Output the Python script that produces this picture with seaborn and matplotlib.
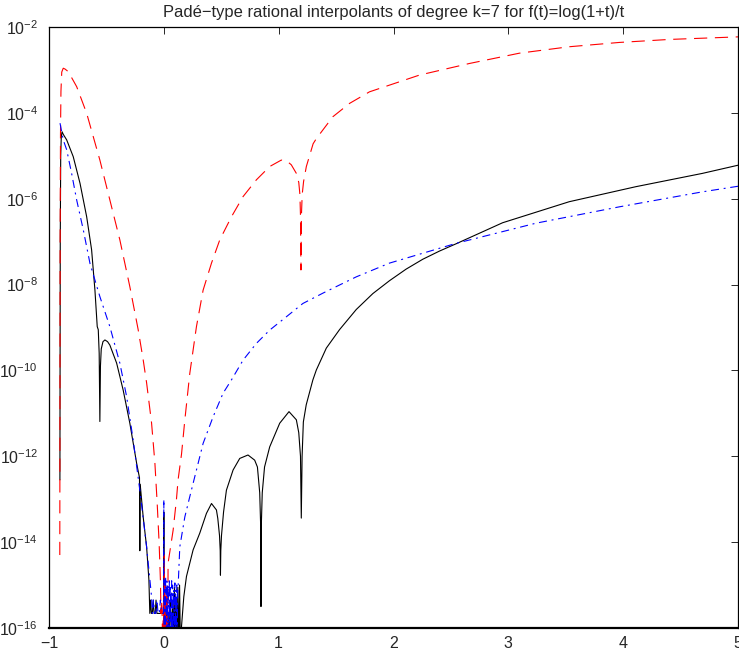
import numpy as np
import pandas as pd
import matplotlib
matplotlib.use("Agg")
import matplotlib.pyplot as plt
import seaborn as sns

# error curves: t values and log10(|error|)
black_t = [
    -0.905, -0.902, -0.898, -0.893, -0.886, -0.876, -0.846, -0.789, -0.730,
    -0.672, -0.629, -0.600, -0.580, -0.571, -0.563, -0.557, -0.552, -0.545,
    -0.530, -0.513, -0.490, -0.470, -0.411, -0.354, -0.296, -0.237, -0.212,
    -0.209, -0.206, -0.180, -0.150, -0.130, -0.122,
    -0.115, -0.108, -0.100, -0.092, -0.085, -0.075, -0.068, -0.060, -0.050,
    -0.040, -0.030, -0.020, -0.010, -0.003, 0.000, 0.003, 0.010, 0.017,
    0.025, 0.032, 0.040, 0.047, 0.055, 0.062, 0.070, 0.077, 0.085, 0.092,
    0.100, 0.107, 0.115, 0.122, 0.130, 0.137, 0.145, 0.154,
    0.174, 0.197, 0.255, 0.313, 0.371, 0.415, 0.458, 0.470, 0.485, 0.491,
    0.493, 0.496, 0.502, 0.520, 0.545, 0.603, 0.661, 0.733, 0.791, 0.815,
    0.835, 0.843, 0.846, 0.849, 0.857, 0.877, 0.922, 1.009, 1.090, 1.154,
    1.175, 1.190, 1.197, 1.204, 1.215, 1.240, 1.270, 1.298, 1.328, 1.415,
    1.530, 1.676, 1.820, 1.965, 2.110, 2.255, 2.400, 2.545, 2.950, 3.530,
    4.110, 4.690, 5.000,
]
black_logerr = [
    -12.55, -7.0, -5.0, -4.55, -4.44, -4.50, -4.63, -5.02, -5.64,
    -6.42, -7.19, -8.13, -8.98, -9.05, -9.6, -11.19, -9.9, -9.5,
    -9.33, -9.29, -9.33, -9.41, -9.83, -10.46, -11.23, -12.16, -12.5,
    -14.2, -12.65, -13.41, -14.11, -14.88, -15.66,
    -15.35, -15.66, -15.66, -15.35, -15.66, -15.66, -15.35, -15.66, -15.66,
    -15.66, -15.66, -15.66, -15.66, -15.66, -13.3, -16.5, -15.66, -16.5,
    -15.35, -16.5, -15.66, -16.5, -15.35, -15.66, -16.5, -15.35, -16.5, -15.05,
    -16.5, -15.35, -16.5, -15.05, -16.5, -15.0, -16.5, -15.96,
    -15.27, -14.8, -14.18, -13.79, -13.33, -13.1, -13.25, -13.45, -13.85, -14.2,
    -14.77, -14.2, -13.85, -13.3, -12.79, -12.32, -12.05, -11.97, -12.09, -12.25,
    -12.85, -13.6, -15.5, -13.6, -12.85, -12.25, -11.78, -11.23, -10.96, -11.15,
    -11.45, -12.0, -13.44, -12.0, -11.2, -10.8, -10.5, -10.22, -9.99, -9.48,
    -9.05, -8.58, -8.21, -7.91, -7.64, -7.41, -7.22, -7.05, -6.56, -6.07,
    -5.72, -5.41, -5.22,
]

red_t = [
    -0.906, -0.903, -0.900, -0.896, -0.889, -0.876, -0.860, -0.832, -0.759,
    -0.672, -0.557, -0.470, -0.383, -0.296, -0.2235, -0.180, -0.150, -0.107,
    -0.078, -0.058, -0.041, -0.029,
    -0.025, -0.020, -0.015, -0.010, -0.006, -0.002, 0.000, 0.003, 0.006,
    0.010, 0.014, 0.018, 0.022, 0.026, 0.030, 0.034,
    0.037, 0.081, 0.110, 0.124, 0.154, 0.183, 0.226, 0.284, 0.342, 0.415,
    0.487, 0.589, 0.690, 0.806, 0.922, 1.023, 1.070, 1.110, 1.154, 1.175,
    1.185, 1.190, 1.194, 1.198, 1.205, 1.217, 1.241, 1.300, 1.328, 1.472,
    1.617, 1.791, 2.226, 2.661, 3.096, 3.530, 3.965, 4.400, 5.000,
]
red_logerr = [
    -14.3, -7.0, -4.5, -3.5, -3.05, -2.96, -2.98, -3.04, -3.39,
    -4.01, -5.10, -6.03, -6.96, -8.05, -9.05, -9.75, -10.29, -11.22,
    -12.15, -13.09, -14.02, -14.95,
    -15.66, -15.35, -15.66, -16.5, -15.66, -15.35, -16.5, -14.3, -16.5,
    -15.0, -16.5, -15.2, -15.66, -16.5, -15.0, -16.5,
    -14.49, -13.72, -13.0, -12.55, -11.95, -11.15, -10.07, -8.98, -8.13, -7.5,
    -6.96, -6.42, -5.95, -5.56, -5.25, -5.10, -5.12, -5.21, -5.41, -5.62,
    -5.9, -6.4, -7.66, -6.4, -5.9, -5.6, -5.25, -4.72, -4.6, -4.09,
    -3.78, -3.51, -3.12, -2.85, -2.61, -2.46, -2.36, -2.29, -2.23,
]

blue_t = [
    -0.904, -0.876, -0.846, -0.803, -0.759, -0.701, -0.643, -0.557, -0.470,
    -0.383, -0.324, -0.267, -0.209, -0.150, -0.107,
    -0.100, -0.090, -0.080, -0.070, -0.060, -0.050, -0.040, -0.030, -0.020,
    -0.010, -0.003, 0.000, 0.003, 0.008, 0.012, 0.016, 0.020, 0.024, 0.028,
    0.032, 0.036, 0.040, 0.044, 0.048, 0.052, 0.056, 0.060, 0.064, 0.068,
    0.072, 0.076, 0.080, 0.084, 0.088, 0.092, 0.096, 0.100, 0.104, 0.108,
    0.112, 0.116, 0.120, 0.125,
    0.139, 0.183, 0.226, 0.284, 0.342, 0.429, 0.516, 0.589, 0.690, 0.806,
    0.922, 1.067, 1.211, 1.385, 1.530, 1.676, 1.965, 2.255, 2.545, 3.241,
    3.965, 4.690, 5.000,
]
blue_logerr = [
    -4.24, -4.63, -4.86, -5.41, -6.03, -6.73, -7.51, -8.28, -8.98,
    -9.83, -10.61, -11.62, -12.79, -14.11, -15.27,
    -15.66, -15.35, -15.66, -15.66, -15.35, -15.66, -15.66, -15.35, -15.66,
    -15.66, -15.66, -13.0, -16.5, -14.9, -16.5, -14.8, -15.66, -16.5, -14.9,
    -16.5, -15.0, -15.35, -16.5, -14.85, -16.5, -15.0, -15.66, -16.5, -14.9,
    -16.5, -15.0, -16.5, -15.1, -15.35, -16.5, -14.95, -16.5, -15.1, -16.5,
    -15.0, -16.5, -15.2, -15.0,
    -14.11, -13.41, -12.94, -12.32, -11.70, -11.08, -10.53, -10.22, -9.76, -9.37,
    -9.06, -8.75, -8.44, -8.20, -8.01, -7.82, -7.50, -7.27, -7.04, -6.57,
    -6.19, -5.84, -5.71,
]

x_ticks = [-1, 0, 1, 2, 3, 4, 5]
y_exponents = [-16, -14, -12, -10, -8, -6, -4, -2]

sns.set_style("white")
plt.rcParams["font.family"] = ["Liberation Sans", "DejaVu Sans"]
plt.rcParams["mathtext.default"] = "regular"
plt.rcParams["lines.scale_dashes"] = False

fig = plt.figure(figsize=(7.39, 6.57), dpi=100)
ax = fig.add_axes([49 / 739, 29 / 657, 689 / 739, 601 / 657])
ax.set_yscale("log")

curves = [
    (black_t, black_logerr, "black", "-"),
    (red_t, red_logerr, "red", (0, (9.5, 5.5))),
    (blue_t, blue_logerr, "blue", (0, (5.8, 3.4, 1.4, 3.4))),
]
for t, logerr, color, ls in curves:
    df = pd.DataFrame({"t": t, "err": 10.0 ** np.array(logerr)})
    sns.lineplot(data=df, x="t", y="err", ax=ax, color=color, linestyle=ls,
                 linewidth=0.8, estimator=None, sort=False, legend=False)

ax.set_xlim(-1, 5)
ax.set_ylim(1e-16, 1e-2)
ax.set_xticks(x_ticks)
ax.set_yticks([10.0 ** e for e in y_exponents])
ax.set_yticklabels([r"$10^{%d}$" % e for e in y_exponents])
ax.yaxis.set_minor_locator(matplotlib.ticker.NullLocator())
ax.tick_params(direction="in", length=5, width=0.7, labelsize=11.5,
               top=True, right=True)
ax.tick_params(axis="x", pad=6)
ax.tick_params(axis="y", pad=8)
ax.set_xlabel("")
ax.set_ylabel("")
for side in ["top", "left", "right"]:
    ax.spines[side].set_linewidth(0.9)
ax.spines["bottom"].set_linewidth(1.6)
for s in ax.spines.values():
    s.set_color("black")

ax.set_title("Padé\u2212type rational interpolants of degree k=7 for f(t)=log(1+t)/t",
             fontsize=11.9, pad=7)

fig.savefig("out.png", dpi=100)
